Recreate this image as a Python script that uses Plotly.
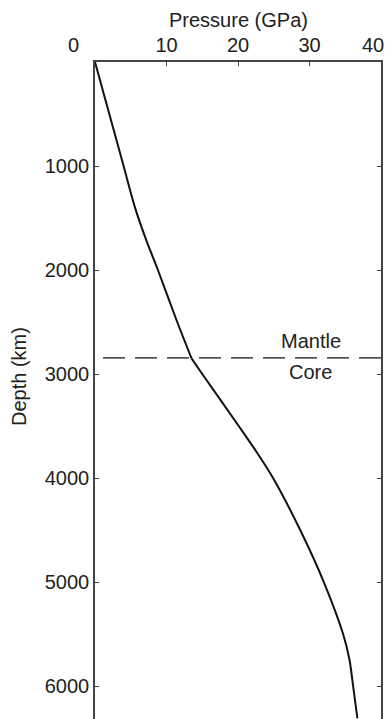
import plotly.graph_objects as go

# Data
mantle_depth_km = [0, 500, 1000, 1400, 1700, 2000, 2500, 2850]
mantle_pressure_gpa = [0, 2.0, 4.0, 5.6, 7.1, 8.8, 11.5, 13.5]
core_depth_km = [2850, 3000, 3500, 3750, 4000, 4500, 5000, 5500, 5750, 6000, 6310]
core_pressure_gpa = [13.5, 15.0, 20.1, 22.6, 24.9, 28.7, 32.0, 34.7, 35.6, 36.1, 36.7]
boundary_depth = 2845
x_ticks = [10, 20, 30, 40]
x_tick_labels = ["10", "20", "30", ""]  # "40" is placed separately so it stays inside the page
y_ticks = [1000, 2000, 3000, 4000, 5000, 6000]
x_range = [0, 40]
y_range = [6317, 0]

FONT = "Liberation Sans, Arial, Helvetica, sans-serif"
TXT = "#222222"
AX = "#444444"

fig = go.Figure()
for xs, ys in [(mantle_pressure_gpa, mantle_depth_km), (core_pressure_gpa, core_depth_km)]:
    fig.add_trace(go.Scatter(x=xs, y=ys, mode="lines",
                             line=dict(color="#111111", width=2, shape="spline", smoothing=0.8),
                             showlegend=False, hoverinfo="skip"))

# core-mantle boundary (dashed)
fig.add_shape(type="line", xref="paper", yref="y", x0=0.028, x1=1,
              y0=boundary_depth, y1=boundary_depth,
              line=dict(color="#111111", width=1.3, dash="22px,10px"))

fig.add_annotation(x=30.2, y=2680, xref="x", yref="y", text="Mantle", showarrow=False,
                   xanchor="center", yanchor="middle",
                   font=dict(family=FONT, size=20, color=TXT))
fig.add_annotation(x=30.1, y=2985, xref="x", yref="y", text="Core", showarrow=False,
                   xanchor="center", yanchor="middle",
                   font=dict(family=FONT, size=20, color=TXT))

PH = 657.0
PW = 286.0
# misplaced "0" label of the pressure axis as in the reference
fig.add_annotation(xref="paper", yref="paper", x=(73 - 95) / PW, y=1 + (62 - 45) / PH,
                   text="0", showarrow=False, xanchor="center", yanchor="middle",
                   font=dict(family=FONT, size=20, color=TXT))
fig.add_annotation(xref="paper", yref="paper", x=(386 - 95) / PW, y=1 + (62 - 45) / PH,
                   text="40", showarrow=False, xanchor="right", yanchor="middle",
                   font=dict(family=FONT, size=20, color=TXT))
fig.add_annotation(xref="paper", yref="paper", x=(238 - 95) / PW, y=1 + (62 - 20) / PH,
                   text="Pressure (GPa)", showarrow=False, xanchor="center", yanchor="middle",
                   font=dict(family=FONT, size=20, color=TXT))
fig.add_annotation(xref="paper", yref="paper", x=(19 - 95) / PW, y=(719 - 377) / PH,
                   text="Depth (km)", showarrow=False, textangle=-90,
                   xanchor="center", yanchor="middle",
                   font=dict(family=FONT, size=20, color=TXT))

fig.update_xaxes(range=x_range, side="top", tickvals=x_ticks, ticktext=x_tick_labels,
                 ticks="inside", ticklen=4,
                 tickcolor=AX, showline=True, linecolor=AX, linewidth=1.5, mirror=False,
                 showgrid=False, zeroline=False,
                 tickfont=dict(family=FONT, size=20, color=TXT))
fig.update_yaxes(range=y_range, tickvals=y_ticks, ticks="inside", ticklen=4,
                 tickcolor=AX, showline=True, linecolor=AX, linewidth=1.5, mirror="ticks",
                 showgrid=False, zeroline=False,
                 tickfont=dict(family=FONT, size=20, color=TXT))

fig.update_layout(width=386, height=719, margin=dict(l=95, r=5, t=62, b=0, autoexpand=False),
                  plot_bgcolor="white", paper_bgcolor="white", showlegend=False)

fig.write_html("out.html")
